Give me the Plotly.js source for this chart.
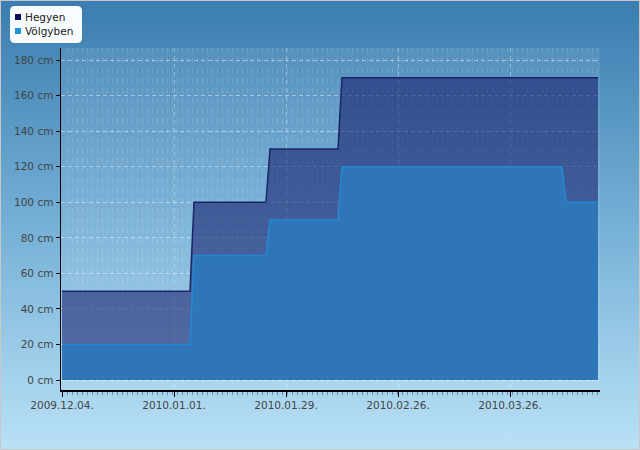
<!DOCTYPE html>
<html>
<head>
<meta charset="utf-8">
<script src="https://cdn.plot.ly/plotly-3.0.1.min.js"></script>
<style>
html,body{margin:0;padding:0;}
#wrap{width:640px;height:450px;box-sizing:border-box;border:1px solid #c8c8c8;
 background:linear-gradient(to bottom,#3b7db0 0%,#75b0d6 50%,#b9e1f6 100%);}
#chart{width:638px;height:448px;}
</style>
</head>
<body>
<div id="wrap"><div id="chart"></div></div>
<script>
// Data (breakpoints of the step series)
const hegyenDates = ['2009-12-04','2010-01-05','2010-01-06','2010-01-24','2010-01-25','2010-02-11','2010-02-12','2010-04-17'];
const hegyenValues = [50,50,100,100,130,130,170,170];
const volgybenDates = ['2009-12-04','2010-01-05','2010-01-06','2010-01-24','2010-01-25','2010-02-11','2010-02-12','2010-04-08','2010-04-09','2010-04-17'];
const volgybenValues = [20,20,70,70,90,90,120,120,100,100];
const seriesNames = ['Hegyen','Völgyben'];
const tickDates = ['2009-12-04','2010-01-01','2010-01-29','2010-02-26','2010-03-26'];
const tickLabels = ['2009.12.04.','2010.01.01.','2010.01.29.','2010.02.26.','2010.03.26.'];
const yTicks = [0,20,40,60,80,100,120,140,160,180];
const yTickLabels = ['0 cm','20 cm','40 cm','60 cm','80 cm','100 cm','120 cm','140 cm','160 cm','180 cm'];

const W = 638, H = 448;
const mL = 60, mR = 39, mT = 47, mB = 59;
const pw = W - mL - mR, ph = H - mT - mB;
const px = x => (x - 1 - mL) / pw;
const py = y => (H - mB - (y - 1)) / ph;

const traces = [
  {x: hegyenDates, y: hegyenValues, name: seriesNames[0], type: 'scatter', mode: 'lines',
   fill: 'tozeroy', fillcolor: 'rgba(15,20,100,0.55)', line: {color: '#1a2468', width: 1.5}, showlegend: false},
  {x: volgybenDates, y: volgybenValues, name: seriesNames[1], type: 'scatter', mode: 'lines',
   fill: 'tozeroy', fillcolor: 'rgb(46,118,184)', line: {color: 'rgb(38,136,212)', width: 1.5}, showlegend: false}
];

function rr(x0,y0,x1,y1,r){
  const X0=px(x0),X1=px(x1),Y0=py(y0),Y1=py(y1);
  const rx=r/pw, ry=r/ph;
  return `M${X0+rx},${Y0} L${X1-rx},${Y0} Q${X1},${Y0} ${X1},${Y0-ry} L${X1},${Y1+ry} Q${X1},${Y1} ${X1-rx},${Y1} L${X0+rx},${Y1} Q${X0},${Y1} ${X0},${Y1+ry} L${X0},${Y0-ry} Q${X0},${Y0} ${X0+rx},${Y0} Z`;
}

const layout = {
  width: W, height: H,
  margin: {l: mL, r: mR, t: mT, b: mB},
  paper_bgcolor: 'rgba(0,0,0,0)',
  plot_bgcolor: 'rgba(255,255,255,0.08)',
  showlegend: false,
  font: {family: 'DejaVu Sans', size: 10, color: '#444'},
  xaxis: {
    type: 'date',
    range: ['2009-12-03 18:00', '2010-04-17 12:00'],
    tickvals: tickDates, ticktext: tickLabels,
    tickfont: {size: 10.5, color: '#444'},
    showline: true, linecolor: '#000', linewidth: 1.5,
    ticks: 'outside', ticklen: 5, tickcolor: '#000', tickwidth: 1,
    showgrid: true, gridcolor: 'rgba(255,255,255,0.35)', griddash: '4px,4px', gridwidth: 1,
    minor: {tick0: '2009-12-04', dtick: 108000000, ticks: 'outside', ticklen: 3, tickcolor: 'rgba(0,0,0,0.35)',
            showgrid: true, gridcolor: 'rgba(255,255,255,0.14)', griddash: '5px,5px', gridwidth: 1},
    zeroline: false, fixedrange: true
  },
  yaxis: {
    range: [-5.6, 186.8],
    tickvals: yTicks, ticktext: yTickLabels,
    tickfont: {size: 10.5, color: '#444'},
    showline: true, linecolor: '#000', linewidth: 1.5,
    ticks: 'outside', ticklen: 4, tickcolor: '#000',
    showgrid: true, gridcolor: 'rgba(255,255,255,0.45)', griddash: '4px,3px', gridwidth: 1,
    zeroline: false, fixedrange: true
  },
  shapes: [
    {type: 'path', xref: 'paper', yref: 'paper', path: rr(10,6,82,43,5), fillcolor: '#f8fcff', line: {width: 0}, layer: 'above'},
    {type: 'rect', xref: 'paper', yref: 'paper', x0: px(15), x1: px(21), y0: py(20), y1: py(14), fillcolor: '#0c0c5c', line: {width: 0}, layer: 'above'},
    {type: 'rect', xref: 'paper', yref: 'paper', x0: px(15), x1: px(21), y0: py(34), y1: py(28), fillcolor: '#1a96dc', line: {width: 0}, layer: 'above'}
  ],
  annotations: [
    {xref: 'paper', yref: 'paper', x: px(23), y: py(17), text: seriesNames[0], showarrow: false, xanchor: 'left', yanchor: 'middle', font: {size: 10.5, color: '#222'}},
    {xref: 'paper', yref: 'paper', x: px(23), y: py(31), text: seriesNames[1], showarrow: false, xanchor: 'left', yanchor: 'middle', font: {size: 10.5, color: '#222'}}
  ]
};

Plotly.newPlot('chart', traces, layout, {displayModeBar: false, staticPlot: true});
</script>
</body>
</html>
